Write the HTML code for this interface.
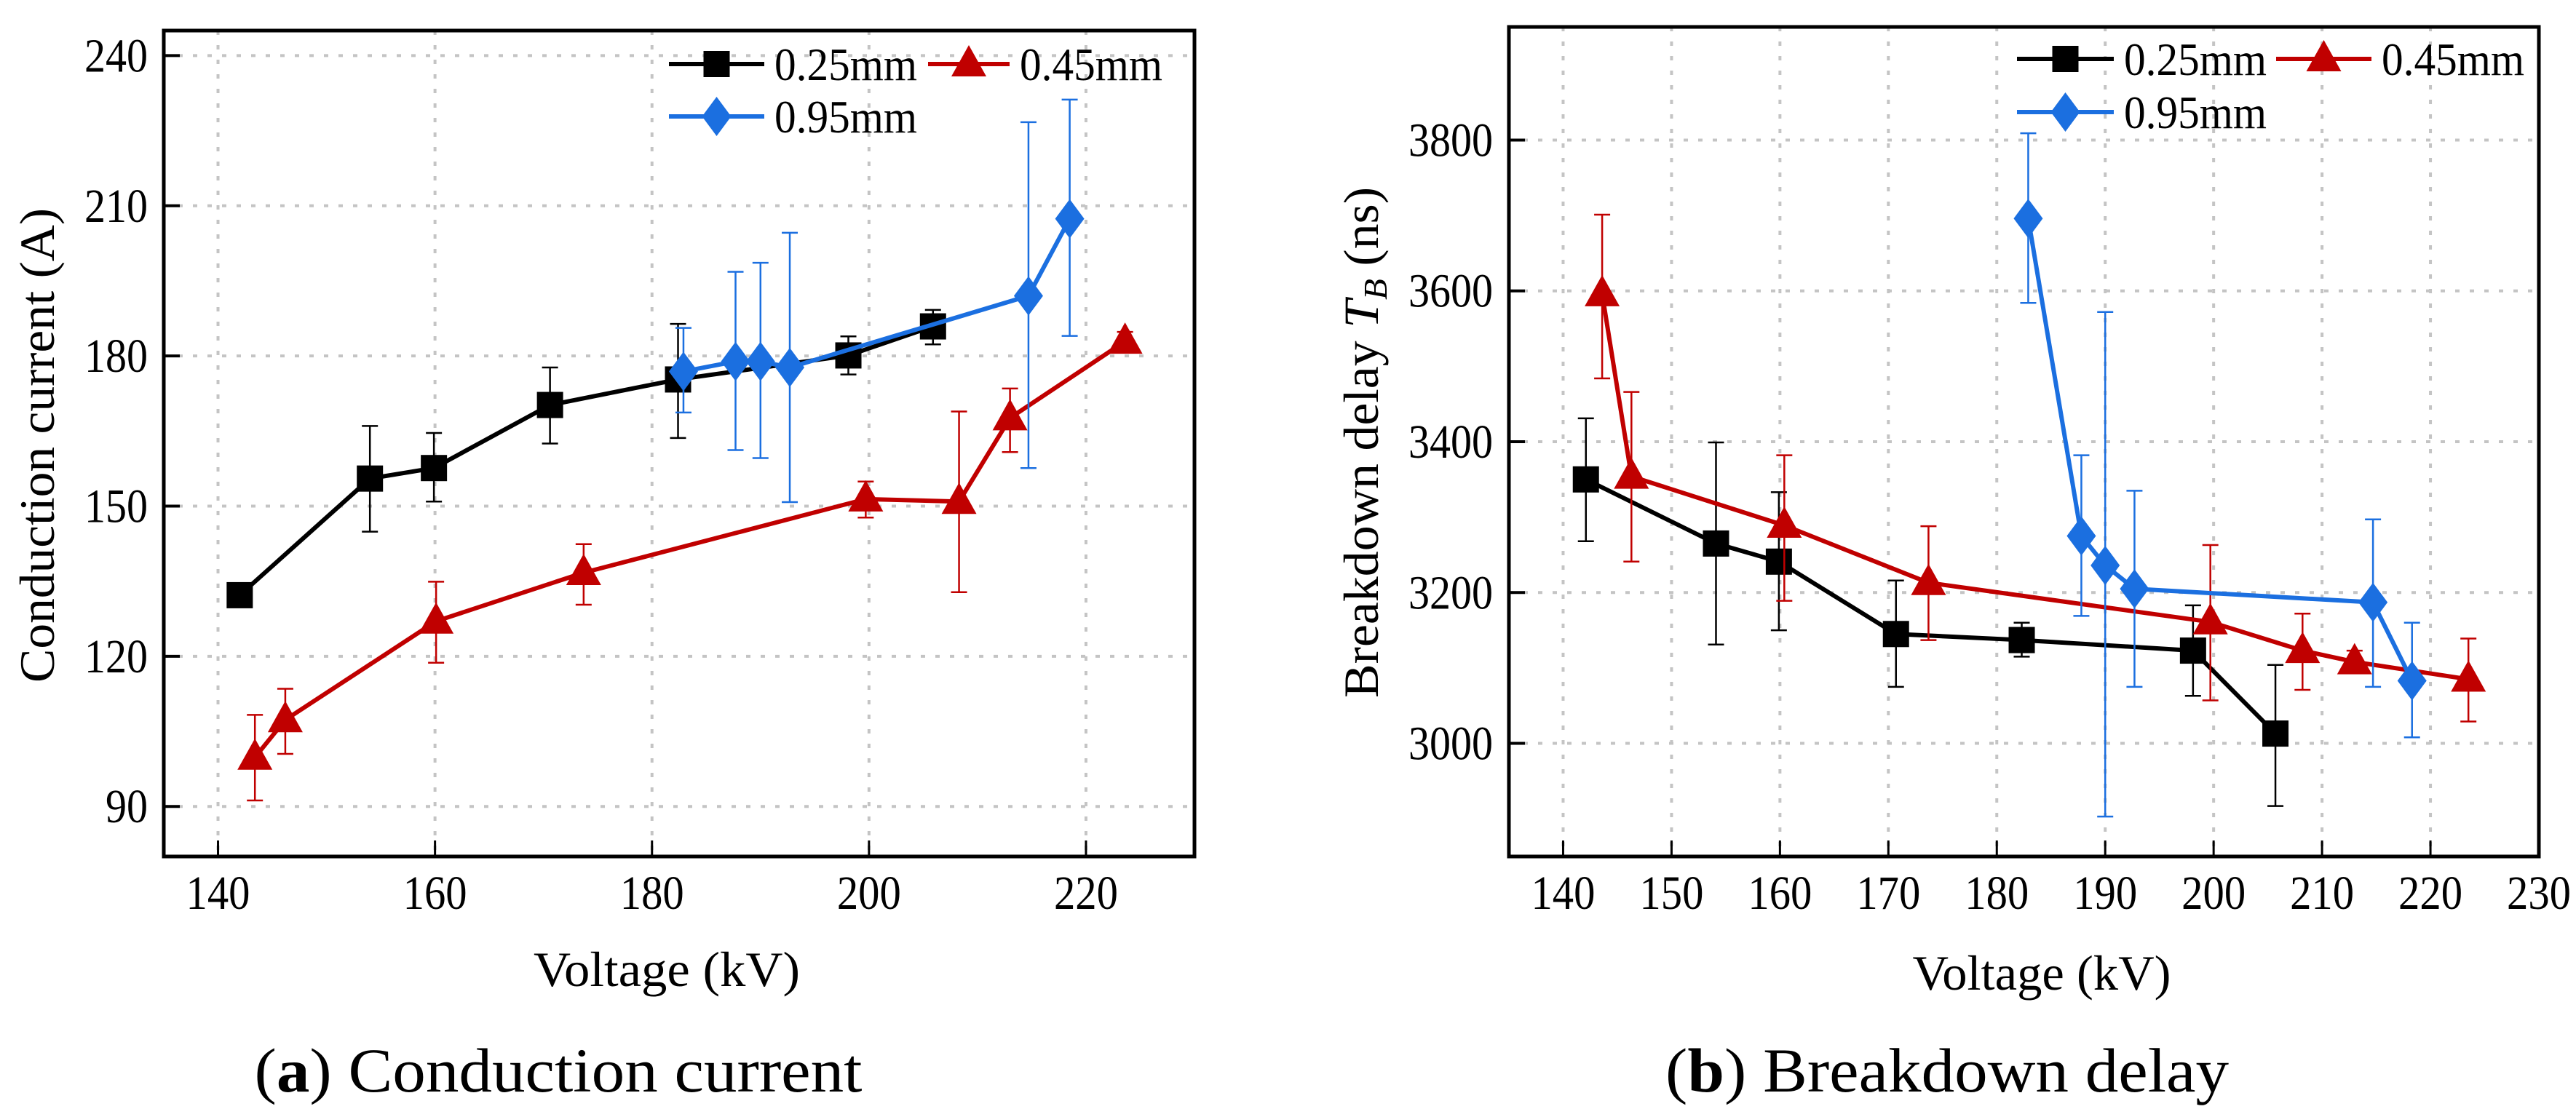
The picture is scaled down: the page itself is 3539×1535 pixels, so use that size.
<!DOCTYPE html>
<html><head><meta charset="utf-8"><style>
html,body{margin:0;padding:0;background:#fff;}
svg{display:block;font-family:"Liberation Serif",serif;}
</style></head><body>
<svg id="fig" width="3539" height="1535" viewBox="0 0 3539 1535" xmlns="http://www.w3.org/2000/svg">
<rect width="3539" height="1535" fill="#fff"/>
<g id="chartA"></g>
<g id="chartB"></g>
<text x="767" y="1500" font-size="86" text-anchor="middle" textLength="835" lengthAdjust="spacingAndGlyphs">(<tspan font-weight="bold">a</tspan>) Conduction current</text>
<text x="2675" y="1500" font-size="86" text-anchor="middle" textLength="774" lengthAdjust="spacingAndGlyphs">(<tspan font-weight="bold">b</tspan>) Breakdown delay</text>
</svg>
<script>
// ---- Chart A data ----
const aXTicks = [140,160,180,200,220];
const aYTicks = [90,120,150,180,210,240];
const aX025 = [142.0,154.0,159.9,170.6,182.4,198.1,205.9];
const aY025 = [132.2,155.5,157.6,170.2,175.3,180.1,185.9];
const aHi025 = [132.2,166.0,164.6,177.7,186.4,183.9,189.2];
const aLo025 = [132.2,144.9,150.9,162.5,163.6,176.3,182.3];
const aX045 = [143.4,146.2,160.1,173.7,199.7,208.3,213.0,223.6];
const aY045 = [99.8,107.3,127.0,136.7,151.4,150.9,167.6,182.9];
const aHi045 = [108.3,113.5,134.9,142.4,154.9,168.9,173.5,184.8];
const aLo045 = [91.2,100.5,118.7,130.3,147.7,132.8,160.8,181.1];
const aX095 = [182.9,187.7,190.0,192.7,214.7,218.5];
const aY095 = [176.9,178.9,178.9,177.7,192.0,207.4];
const aHi095 = [185.6,196.8,198.6,204.6,226.7,231.2];
const aLo095 = [168.7,161.2,159.6,150.8,157.6,184.0];
// ---- Chart B data ----
const bXTicks = [140,150,160,170,180,190,200,210,220,230];
const bYTicks = [3000,3200,3400,3600,3800];
const bX025 = [142.1,154.1,159.9,170.7,182.3,198.1,205.7];
const bY025 = [3350,3265,3241,3145,3137,3123,3013];
const bHi025 = [3431,3399,3333,3216,3160,3183,3104];
const bLo025 = [3268,3131,3150,3075,3115,3063,2917];
const bX045 = [143.6,146.3,160.4,173.7,199.7,208.2,213.0,223.5];
const bY045 = [3596,3354,3289,3213,3161,3123,3108,3085];
const bHi045 = [3701,3466,3382,3288,3263,3172,3123,3139];
const bLo045 = [3484,3241,3189,3137,3057,3071,3095,3029];
const bX095 = [182.9,187.8,190.0,192.7,214.7,218.3];
const bY095 = [3696,3275,3236,3205,3187,3083];
const bHi095 = [3809,3382,3572,3335,3297,3160];
const bLo095 = [3584,3169,2903,3075,3075,3008];
const legendLabels = ["0.25mm","0.45mm","0.95mm"];

const NS="http://www.w3.org/2000/svg";
function mk(parent,tag,attrs){const e=document.createElementNS(NS,tag);for(const k in attrs)e.setAttribute(k,attrs[k]);parent.appendChild(e);return e;}
const BLACK="#000000",RED="#c00000",BLUE="#1b6fe0";

function marker(g,shape,cx,cy,color){
  let m;
  if(shape==="square"){m=mk(g,"rect",{x:cx-18,y:cy-18,width:36,height:36,fill:color});}
  else if(shape==="triangle"){m=mk(g,"polygon",{points:`${cx},${cy-26} ${cx-24},${cy+17} ${cx+24},${cy+17}`,fill:color});}
  else {m=mk(g,"polygon",{points:`${cx},${cy-27} ${cx+20},${cy} ${cx},${cy+27} ${cx-20},${cy}`,fill:color});}
  return m;
}

function drawChart(root,cfg){
  const L=cfg.L,R=cfg.R,T=cfg.T,B=cfg.B;
  const sx=v=>L+(v-cfg.x0)/(cfg.x1-cfg.x0)*(R-L);
  const sy=v=>B-(v-cfg.y0)/(cfg.y1-cfg.y0)*(B-T);
  const grid=mk(root,"g",{});
  
  
  cfg.xTicks.forEach(t=>{if(sx(t)<R-3)mk(grid,"line",{x1:sx(t),x2:sx(t),y1:T,y2:B,stroke:"#c4c4c4","stroke-width":4,"stroke-dasharray":"6 14"});});
  cfg.yTicks.forEach(t=>{mk(grid,"line",{x1:L,x2:R,y1:sy(t),y2:sy(t),stroke:"#c4c4c4","stroke-width":4,"stroke-dasharray":"6 14"});});
  const xa=mk(root,"g",{});
  
  
  cfg.xTicks.forEach(t=>{
    mk(xa,"line",{x1:sx(t),x2:sx(t),y1:B,y2:B-22,stroke:"#000","stroke-width":3});
    const tx=mk(xa,"text",{x:sx(t),y:B+72,"font-size":66,"text-anchor":"middle",textLength:88,lengthAdjust:"spacingAndGlyphs"});
    
    
    tx.textContent=t;
  });
  const ya=mk(root,"g",{});
  
  
  cfg.yTicks.forEach(t=>{
    mk(ya,"line",{x1:L,x2:L+22,y1:sy(t),y2:sy(t),stroke:"#000","stroke-width":4});
    const ty=mk(ya,"text",{x:L-22,y:sy(t)+22,"font-size":66,"text-anchor":"end",textLength:String(t).length*29,lengthAdjust:"spacingAndGlyphs"});
    
    
    ty.textContent=t;
  });
  mk(root,"rect",{x:L,y:T,width:R-L,height:B-T,fill:"none",stroke:"#000","stroke-width":5});
  cfg.series.forEach(s=>{
    const g=mk(root,"g",{});
    
    
    s.x.forEach((v,i)=>{
      const px=sx(v),hi=sy(s.hi[i]),lo=sy(s.lo[i]);
      if(Math.abs(hi-lo)>1){
        const eb=mk(g,"path",{d:`M${px},${hi}V${lo}M${px-11},${hi}H${px+11}M${px-11},${lo}H${px+11}`,stroke:s.color,"stroke-width":2.5,fill:"none"});
        
        
      }
    });
    const ln=mk(g,"polyline",{points:s.x.map((v,i)=>sx(v)+","+sy(s.y[i])).join(" "),fill:"none",stroke:s.color,"stroke-width":6,"stroke-linejoin":"round"});
    
    
    s.x.forEach((v,i)=>{
      const m=marker(g,s.shape,sx(v),sy(s.y[i]),s.color);
      
      
    });
  });
  const lg=mk(root,"g",{});
  
  
  cfg.legend.forEach((e,i)=>{
    const s=cfg.series[i];
    const eg=mk(lg,"g",{});
    
    
    mk(eg,"line",{x1:e.x0,x2:e.x1,y1:e.y,y2:e.y,stroke:s.color,"stroke-width":6});
    marker(eg,s.shape,(e.x0+e.x1)/2,e.y,s.color);
    const t=mk(eg,"text",{x:e.x1+14,y:e.y+22,"font-size":64,textLength:196,lengthAdjust:"spacingAndGlyphs"});
    t.textContent=legendLabels[i];
  });
}

drawChart(document.getElementById("chartA"),{
  L:225,R:1641,T:42,B:1177,x0:135,x1:230,y0:80,y1:245,
  xTicks:aXTicks,yTicks:aYTicks,
  series:[
    {name:"0.25mm",color:BLACK,shape:"square",x:aX025,y:aY025,hi:aHi025,lo:aLo025},
    {name:"0.45mm",color:RED,shape:"triangle",x:aX045,y:aY045,hi:aHi045,lo:aLo045},
    {name:"0.95mm",color:BLUE,shape:"diamond",x:aX095,y:aY095,hi:aHi095,lo:aLo095}],
  legend:[{x0:919,x1:1050,y:88},{x0:1275,x1:1387,y:88},{x0:919,x1:1050,y:160}]
});
drawChart(document.getElementById("chartB"),{
  L:2073,R:3488,T:37,B:1177,x0:135,x1:230,y0:2850,y1:3950,
  xTicks:bXTicks,yTicks:bYTicks,
  series:[
    {name:"0.25mm",color:BLACK,shape:"square",x:bX025,y:bY025,hi:bHi025,lo:bLo025},
    {name:"0.45mm",color:RED,shape:"triangle",x:bX045,y:bY045,hi:bHi045,lo:bLo045},
    {name:"0.95mm",color:BLUE,shape:"diamond",x:bX095,y:bY095,hi:bHi095,lo:bLo095}],
  legend:[{x0:2771,x1:2904,y:81},{x0:3127,x1:3258,y:81},{x0:2771,x1:2904,y:154}]
});

const fig=document.getElementById("fig");
function title(x,y,txt,len,rot,name){
  const t=mk(fig,"text",{x:x,y:y,"font-size":68,"text-anchor":"middle",textLength:len,lengthAdjust:"spacingAndGlyphs"});
  if(rot)t.setAttribute("transform",`rotate(-90 ${x} ${y})`);
  
  
  t.textContent=txt;
  return t;
}
title(916,1355,"Voltage (kV)",366,false,"x-axis-title-a");
title(2805,1360,"Voltage (kV)",355,false,"x-axis-title-b");
title(74,612,"Conduction current (A)",652,true,"y-axis-title-a");
const yb=mk(fig,"text",{x:1893,y:608,"font-size":68,"text-anchor":"middle",textLength:702,lengthAdjust:"spacingAndGlyphs",transform:"rotate(-90 1893 608)"});


yb.innerHTML='Breakdown delay <tspan font-style="italic">T</tspan><tspan font-style="italic" font-size="46" dy="12">B</tspan><tspan dy="-12"> (ns)</tspan>';
</script>
</body></html>
